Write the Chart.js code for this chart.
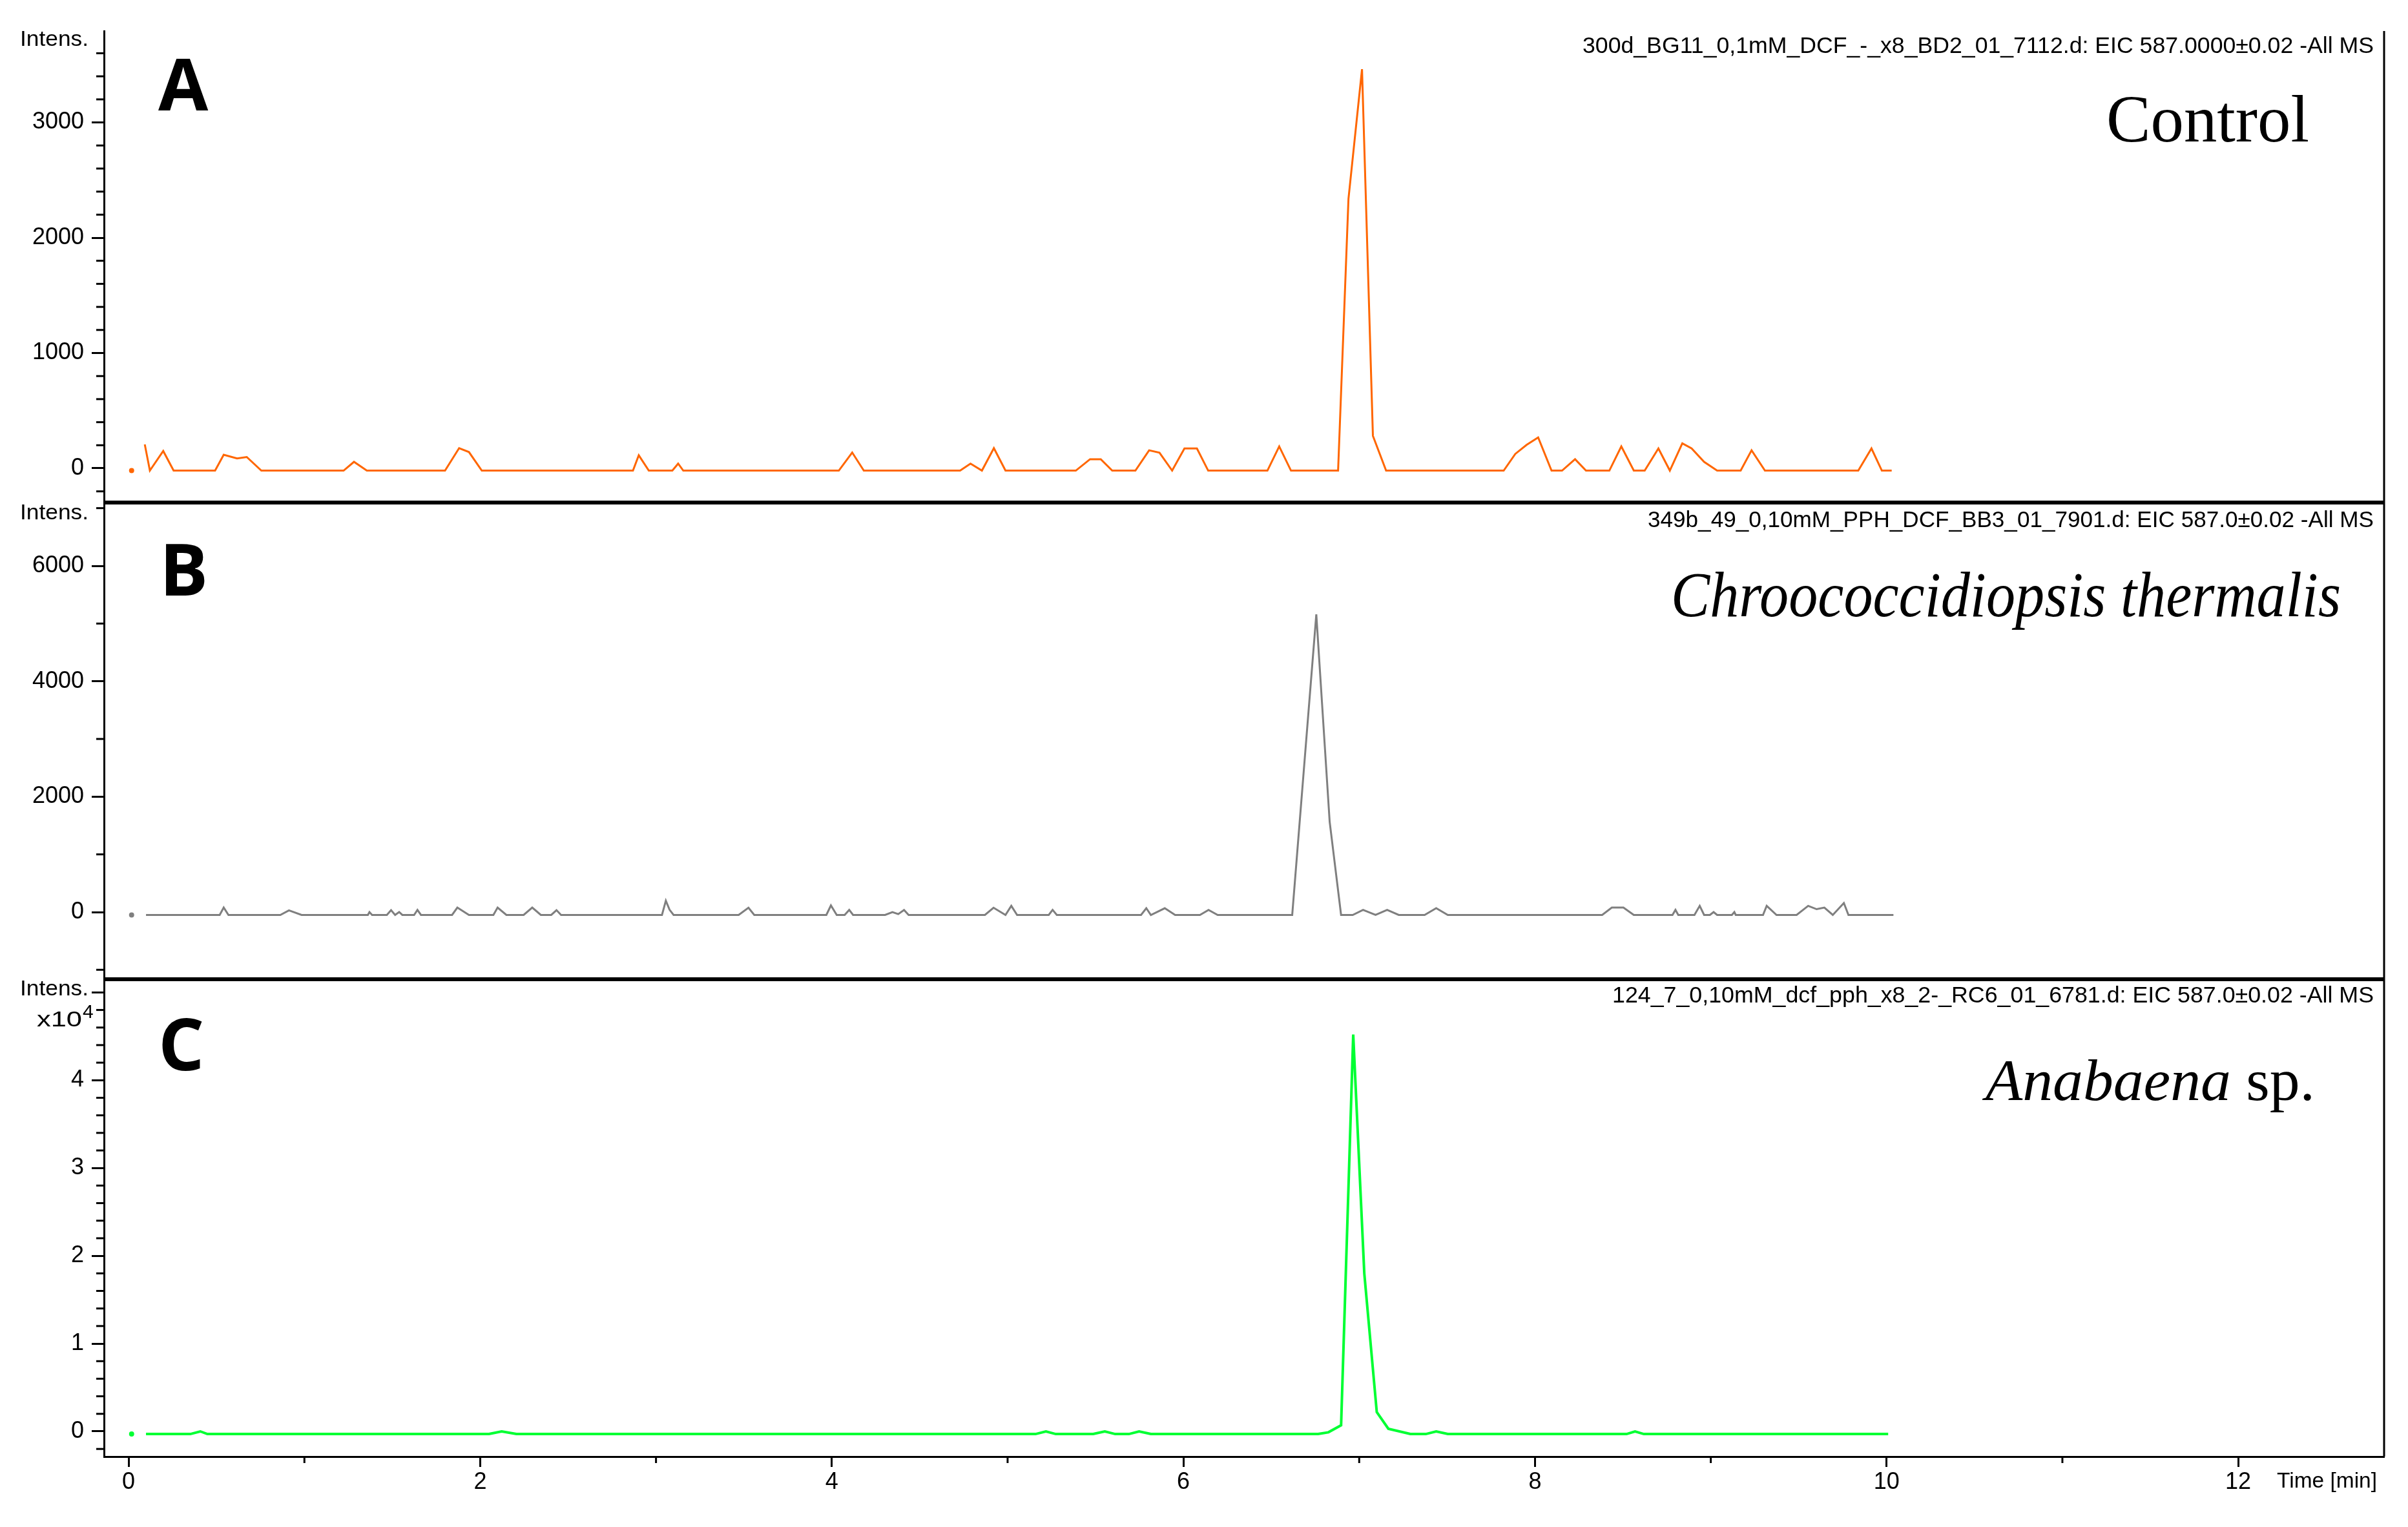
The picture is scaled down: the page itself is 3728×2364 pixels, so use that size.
<!DOCTYPE html>
<html>
<head>
<meta charset="utf-8">
<title>EIC 587 chromatograms</title>
<script src="https://cdn.jsdelivr.net/npm/chart.js@4.4.1/dist/chart.umd.min.js"></script>
<style>
  html, body { margin: 0; padding: 0; background: #fff; }
  canvas { display: block; }
</style>
</head>
<body>
<canvas id="eicChart" width="3728" height="2364"></canvas>
<script>
// Panel A - control, EIC 587 (intensity)
const timeA = [
  0.017, 0.05, 0.092, 0.121, 0.197, 0.256, 0.492, 0.541, 0.617, 0.672,
  0.755, 1.223, 1.282, 1.355, 1.800, 1.880, 1.936, 2.009, 2.869, 2.902,
  2.959, 3.093, 3.126, 3.155, 4.040, 4.116, 4.182, 4.730, 4.789, 4.854,
  4.922, 4.988, 5.388, 5.469, 5.530, 5.595, 5.727, 5.805, 5.864, 5.936,
  6.006, 6.077, 6.141, 6.478, 6.545, 6.612, 6.880, 6.939, 7.016, 7.078,
  7.153, 7.822, 7.888, 7.952, 8.018, 8.094, 8.154, 8.228, 8.290, 8.423,
  8.491, 8.562, 8.624, 8.702, 8.767, 8.838, 8.891, 8.962, 9.036, 9.170,
  9.232, 9.308, 9.839, 9.914, 9.973, 10.029
];
const intensA = [
  -20, null, 207, -20, 150, -20, -20, 117, 85, 98,
  -20, -20, 56, -20, -20, 175, 141, -20, -20, 113,
  -20, -20, 41, -20, -20, 137, -20, -20, 41, -20,
  175, -20, -20, 79, 79, -20, -20, 156, 135, -20,
  172, 172, -20, -20, 190, -20, -20, 2337, 3462, 282,
  -20, -20, 125, 203, 268, -20, -20, 79, -20, -20,
  190, -20, -20, 172, -20, 216, 172, 56, -20, -20,
  156, -20, -20, 172, -20, -20
];

// Panel B - Chroococcidiopsis thermalis
const timeB = [
  0.017, 0.06, 0.099, 0.518, 0.541, 0.568, 0.863, 0.912, 0.984, 1.361,
  1.370, 1.385, 1.469, 1.493, 1.516, 1.539, 1.557, 1.624, 1.643, 1.663,
  1.840, 1.870, 1.936, 2.075, 2.099, 2.149, 2.247, 2.296, 2.345, 2.404,
  2.434, 2.460, 3.034, 3.056, 3.077, 3.100, 3.470, 3.526, 3.559, 3.969,
  3.995, 4.028, 4.073, 4.099, 4.121, 4.303, 4.345, 4.378, 4.411, 4.437,
  4.871, 4.920, 4.988, 5.021, 5.054, 5.234, 5.256, 5.280, 5.759, 5.789,
  5.815, 5.894, 5.953, 6.094, 6.143, 6.195, 6.619, 6.756, 6.832, 6.897,
  6.963, 7.022, 7.093, 7.159, 7.225, 7.372, 7.438, 7.504, 8.382, 8.437,
  8.503, 8.562, 8.782, 8.799, 8.815, 8.907, 8.937, 8.962, 8.995, 9.016,
  9.036, 9.120, 9.134, 9.142, 9.297, 9.318, 9.374, 9.488, 9.554, 9.602,
  9.646, 9.694, 9.757, 9.783, 10.039
];
const intensB = [
  -50, null, -50, -50, 78, -50, -50, 30, -50, -50,
  0, -50, -50, 33, -50, 0, -50, -50, 37, -50,
  -50, 78, -50, -50, 78, -50, -50, 78, -50, -50,
  33, -50, -50, 197, 41, -50, -50, 75, -50, -50,
  115, -50, -50, 37, -50, -50, 0, -35, 37, -50,
  -50, 75, -50, 108, -50, -50, 38, -50, -50, 67,
  -50, 67, -50, -50, 38, -50, -50, 5160, 1566, -50,
  -50, 38, -50, 38, -50, -50, 67, -50, -50, 78,
  78, -50, -50, 38, -50, -50, 108, -50, -50, 0,
  -50, -50, 0, -50, -50, 108, -50, -50, 108, 50,
  78, -50, 156, -50, -50
];

// Panel C - Anabaena sp. (x10^4)
const timeC = [
  0.017, 0.06, 0.099, 0.351, 0.408, 0.448, 2.050, 2.122, 2.206, 5.159,
  5.218, 5.274, 5.487, 5.553, 5.612, 5.690, 5.748, 5.815, 6.766, 6.825,
  6.897, 6.966, 7.029, 7.100, 7.166, 7.291, 7.379, 7.438, 7.504, 8.521,
  8.569, 8.619, 10.009
];
const intensC = [
  -0.03, null, -0.03, -0.03, 0.0, -0.03, -0.03, 0.0, -0.03, -0.03,
  0.0, -0.03, -0.03, 0.0, -0.03, -0.03, 0.0, -0.03, -0.03, -0.01,
  0.07, 4.52, 1.8, 0.22, 0.03, -0.03, -0.03, 0.0, -0.03, -0.03,
  0.0, -0.03, -0.03
];

// tick labels
const xLabels = [0, 2, 4, 6, 8, 10, 12];
const yLabelsA = [0, 1000, 2000, 3000];
const yLabelsB = [0, 2000, 4000, 6000];
const yLabelsC = [0, 1, 2, 3, 4];

const fileNames = [
  '300d_BG11_0,1mM_DCF_-_x8_BD2_01_7112.d: EIC 587.0000±0.02 -All MS',
  '349b_49_0,10mM_PPH_DCF_BB3_01_7901.d: EIC 587.0±0.02 -All MS',
  '124_7_0,10mM_dcf_pph_x8_2-_RC6_01_6781.d: EIC 587.0±0.02 -All MS'
];

const SANS = '"Liberation Sans", Arial, sans-serif';
const SERIF = '"Liberation Serif", "Times New Roman", serif';
const majorStep = { x: 2, yA: 1000, yB: 2000, yC: 1 };

function toPoints(t, v) {
  return t.map((x, i) => ({ x: x, y: v[i] }));
}
function isMajor(id, v) {
  const r = v / majorStep[id];
  return Math.abs(r - Math.round(r)) < 1e-6;
}
function labelFrom(list) {
  return v => {
    const hit = list.find(t => Math.abs(t - v) < 1e-6);
    return hit === undefined ? '' : String(hit);
  };
}
// Chart.js may stretch stepSize to fit min/max, so lay the ticks on the step ourselves
function stepTicks(step) {
  return s => {
    const out = [];
    for (let k = Math.ceil(s.min / step - 1e-9); k * step <= s.max + 1e-9; k++) {
      out.push({ value: Math.round(k * step * 1e6) / 1e6 });
    }
    s.ticks = out;
  };
}

function trace(label, t, v, color, width, axis) {
  return {
    label: label,
    data: toPoints(t, v),
    yAxisID: axis,
    borderColor: color,
    backgroundColor: color,
    borderWidth: width,
    tension: 0,
    spanGaps: false,
    pointRadius: ctx => ctx.dataIndex === 0 ? 4 : 0,
    pointBorderWidth: 0,
    pointHoverRadius: 0
  };
}

function yAxis(id, min, max, step, labels, order, weight) {
  return {
    type: 'linear',
    position: 'left',
    stack: 'panels',
    stackWeight: weight,
    weight: order,
    min: min,
    max: max,
    border: { display: true, color: '#000', width: 3 },
    grid: {
      drawOnChartArea: false,
      drawTicks: true,
      tickLength: 19,
      tickWidth: 3,
      tickColor: ctx => isMajor(id, ctx.tick.value) ? '#000' : 'rgba(0,0,0,0)'
    },
    ticks: {
      stepSize: step,
      includeBounds: false,
      autoSkip: false,
      padding: 12,
      color: '#000',
      font: { family: SANS, size: 36 },
      callback: labelFrom(labels)
    },
    afterBuildTicks: stepTicks(step),
    afterFit: s => { s.width = 161; }
  };
}

// short minor ticks, dividers, frame and all the annotation text
const decorations = {
  id: 'decorations',
  afterDraw(chart) {
    const c = chart.ctx;
    const area = chart.chartArea;
    const sA = chart.scales.yA, sB = chart.scales.yB, sC = chart.scales.yC, sx = chart.scales.x;
    c.save();
    c.strokeStyle = '#000';
    c.lineWidth = 3;
    [sA, sB, sC].forEach(s => {
      s.ticks.forEach(t => {
        if (isMajor(s.id, t.value)) return;
        const y = s.getPixelForValue(t.value);
        c.beginPath(); c.moveTo(s.right, y); c.lineTo(s.right - 12, y); c.stroke();
      });
    });
    sx.ticks.forEach(t => {
      if (isMajor('x', t.value)) return;
      const x = sx.getPixelForValue(t.value);
      c.beginPath(); c.moveTo(x, sx.top); c.lineTo(x, sx.top + 10); c.stroke();
    });
    // right frame
    c.beginPath(); c.moveTo(area.right, area.top); c.lineTo(area.right, area.bottom); c.stroke();
    // thick dividers between panels
    c.lineWidth = 6;
    [sA.bottom, sB.bottom].forEach(y => {
      c.beginPath(); c.moveTo(area.left, y); c.lineTo(area.right, y); c.stroke();
    });

    c.fillStyle = '#000';
    c.textAlign = 'left';
    c.textBaseline = 'alphabetic';
    const fit = (parts, left, right, base) => {
      let total = 0;
      parts.forEach(p => { c.font = p.font; p.w = c.measureText(p.text).width; total += p.w; });
      c.save();
      c.translate(left, base);
      c.scale((right - left) / total, 1);
      let x = 0;
      parts.forEach(p => { c.font = p.font; c.fillText(p.text, x, 0); x += p.w; });
      c.restore();
    };
    const head = '35px ' + SANS;
    fit([{ text: fileNames[0], font: head }], 2450, 3675, 82);
    fit([{ text: fileNames[1], font: head }], 2551, 3675, 816);
    fit([{ text: fileNames[2], font: head }], 2496, 3675, 1552);

    const small = '34px ' + SANS;
    fit([{ text: 'Intens.', font: small }], 31, 137, 71);
    fit([{ text: 'Intens.', font: small }], 31, 137, 804);
    fit([{ text: 'Intens.', font: small }], 31, 137, 1541);
    fit([{ text: 'x10', font: small }], 57, 127, 1589);
    c.font = '30px ' + SANS;
    c.fillText('4', 128, 1576);
    fit([{ text: 'Time [min]', font: small }], 3525, 3680, 2303);

    c.font = 'bold 112px "Open Sans", ' + SANS;
    c.fillText('A', 245, 171);
    c.fillText('B', 247, 922);
    c.fillText('C', 245, 1657);

    fit([{ text: 'Control', font: '104px ' + SERIF }], 3261, 3575, 219);
    fit([{ text: 'Chroococcidiopsis thermalis', font: 'italic 100px ' + SERIF }], 2587, 3624, 954);
    fit([{ text: 'Anabaena', font: 'italic 90px ' + SERIF },
         { text: ' sp.', font: '90px ' + SERIF }], 3074, 3584, 1703);
    c.restore();
  }
};

new Chart(document.getElementById('eicChart').getContext('2d'), {
  type: 'line',
  data: {
    datasets: [
      trace('Control', timeA, intensA, '#ff6600', 3, 'yA'),
      trace('Chroococcidiopsis thermalis', timeB, intensB, '#7f7f7f', 3, 'yB'),
      trace('Anabaena sp.', timeC, intensC, '#00ff33', 4, 'yC')
    ]
  },
  options: {
    responsive: false,
    animation: false,
    layout: { padding: { top: 48, right: 37, bottom: 0, left: 0 } },
    plugins: { legend: { display: false }, tooltip: { enabled: false } },
    scales: {
      x: {
        type: 'linear',
        position: 'bottom',
        min: -0.14,
        max: 12.83,
        border: { display: true, color: '#000', width: 3 },
        grid: {
          drawOnChartArea: false,
          tickLength: 16,
          tickWidth: 3,
          tickColor: ctx => isMajor('x', ctx.tick.value) ? '#000' : 'rgba(0,0,0,0)'
        },
        ticks: {
          stepSize: 1,
          includeBounds: false,
          autoSkip: false,
          maxRotation: 0,
          padding: 2,
          color: '#000',
          font: { family: SANS, size: 36 },
          callback: labelFrom(xLabels)
        },
        afterBuildTicks: stepTicks(1),
        afterFit: s => { s.height = 109; }
      },
      yA: yAxis('yA', -297, 3793, 200, yLabelsA, 3, 730),
      yB: yAxis('yB', -1164, 7097, 1000, yLabelsB, 2, 738),
      yC: yAxis('yC', -0.287, 5.15, 0.2, yLabelsC, 1, 739)
    }
  },
  plugins: [decorations]
});
</script>
</body>
</html>
